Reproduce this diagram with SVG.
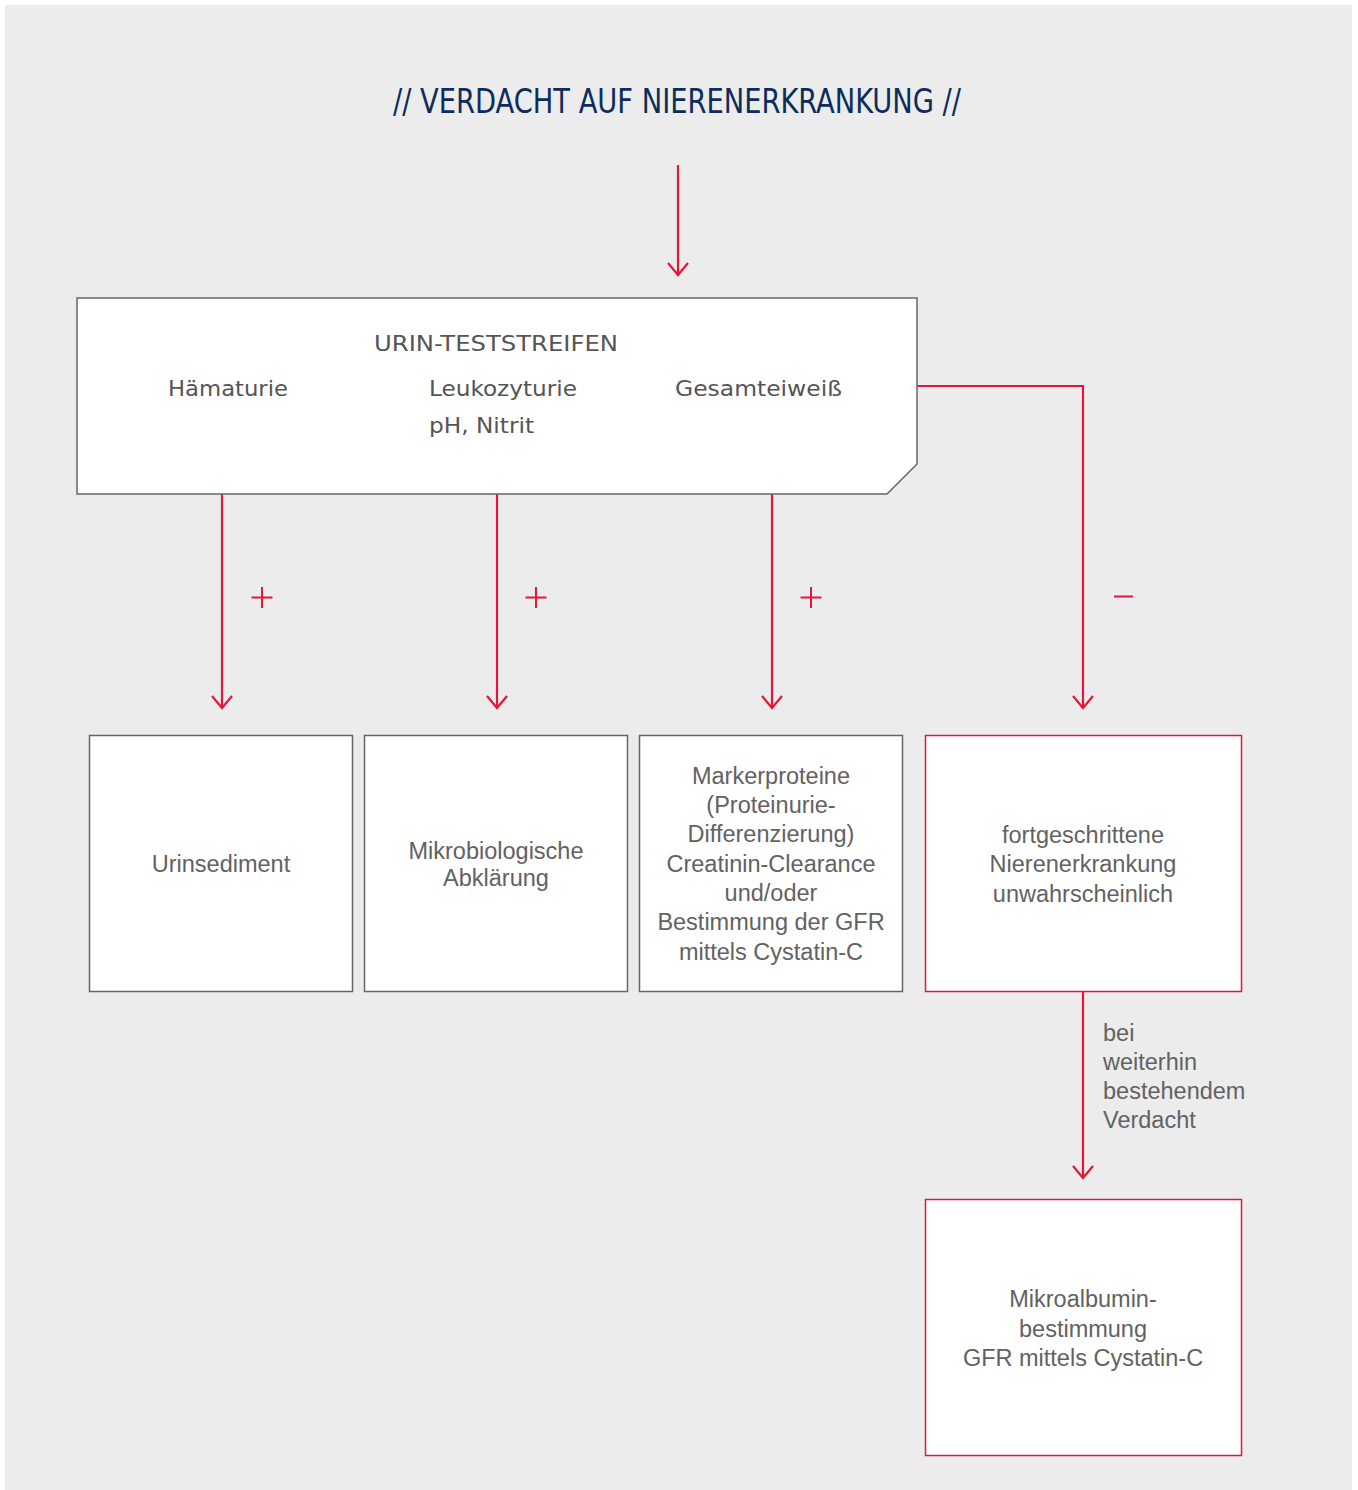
<svg xmlns="http://www.w3.org/2000/svg" width="1358" height="1490" viewBox="0 0 1358 1490">
<defs>
<marker id="ah" viewBox="0 0 16 24" markerWidth="16" markerHeight="24" refX="14" refY="12" orient="auto" markerUnits="userSpaceOnUse">
<path d="M2,2 L14,12 L2,22" fill="none" stroke="#e4163a" stroke-width="2.2"/>
</marker>
<style>
.box{fill:#fff;stroke:#666;stroke-width:1.5}
.rbox{fill:#fff;stroke:#e4163a;stroke-width:1.5}
.t{font-family:"Liberation Sans",Arial,sans-serif;font-size:23.5px;fill:#626262}
.c{font-family:"DejaVu Sans Condensed","Liberation Sans Narrow","Liberation Sans",sans-serif;font-size:22px;fill:#555}
.line{fill:none;stroke:#e4163a;stroke-width:2.2}
</style>
</defs>
<rect x="0" y="0" width="1358" height="1490" fill="#fff"/>
<rect x="5" y="5" width="1347" height="1490" fill="#ececec"/>
<text x="677" y="113" text-anchor="middle" font-family="DejaVu Sans Condensed,Liberation Sans Narrow,sans-serif" font-size="34" fill="#0c2d5c" textLength="568" lengthAdjust="spacingAndGlyphs">// VERDACHT AUF NIERENERKRANKUNG //</text>
<g id="connectors">
<path class="line" d="M678,165 V275" marker-end="url(#ah)"/>
<path class="line" d="M222,494 V708" marker-end="url(#ah)"/>
<path class="line" d="M497,494 V708" marker-end="url(#ah)"/>
<path class="line" d="M772,494 V708" marker-end="url(#ah)"/>
<path class="line" d="M917,386 H1083 V708" marker-end="url(#ah)"/>
<path class="line" d="M1083,992 V1178" marker-end="url(#ah)"/>
<path d="M262,587 V608 M251.5,597.5 H272.5 M536,587 V608 M525.5,597.5 H546.5 M811,587 V608 M800.5,597.5 H821.5 M1114,596.5 H1133" stroke="#e4163a" stroke-width="2" fill="none"/>
<g class="t"><text x="1103" y="1041">bei</text><text x="1103" y="1070">weiterhin</text><text x="1103" y="1099">bestehendem</text><text x="1103" y="1128">Verdacht</text></g>
</g>
<g id="teststreifen">
<path class="box" d="M77,298 H917 V464 L887,494 H77 Z"/>
<text class="c" x="496" y="351" text-anchor="middle" textLength="244" lengthAdjust="spacingAndGlyphs">URIN-TESTSTREIFEN</text>
<text class="c" x="168" y="396" textLength="120" lengthAdjust="spacingAndGlyphs">Hämaturie</text>
<text class="c" x="429" y="396" textLength="148" lengthAdjust="spacingAndGlyphs">Leukozyturie</text>
<text class="c" x="429" y="433" textLength="105" lengthAdjust="spacingAndGlyphs">pH, Nitrit</text>
<text class="c" x="675" y="396" textLength="167" lengthAdjust="spacingAndGlyphs">Gesamteiweiß</text>
</g>
<g id="urinsediment">
<rect class="box" x="89.5" y="735.5" width="263" height="256"/>
<text class="t" x="221" y="872" text-anchor="middle">Urinsediment</text>
</g>
<g id="mikrobiologie">
<rect class="box" x="364.5" y="735.5" width="263" height="256"/>
<text class="t" x="496" y="859" text-anchor="middle">Mikrobiologische</text>
<text class="t" x="496" y="886" text-anchor="middle">Abklärung</text>
</g>
<g id="markerproteine">
<rect class="box" x="639.5" y="735.5" width="263" height="256"/>
<g class="t" text-anchor="middle">
<text x="771" y="784">Markerproteine</text>
<text x="771" y="813">(Proteinurie-</text>
<text x="771" y="842">Differenzierung)</text>
<text x="771" y="872">Creatinin-Clearance</text>
<text x="771" y="901">und/oder</text>
<text x="771" y="930">Bestimmung der GFR</text>
<text x="771" y="960">mittels Cystatin-C</text>
</g>
</g>
<g id="unwahrscheinlich">
<rect class="rbox" x="925.5" y="735.5" width="316" height="256"/>
<g class="t" text-anchor="middle">
<text x="1083" y="843">fortgeschrittene</text>
<text x="1083" y="872">Nierenerkrankung</text>
<text x="1083" y="902">unwahrscheinlich</text>
</g>
</g>
<g id="mikroalbumin">
<rect class="rbox" x="925.5" y="1199.5" width="316" height="256"/>
<g class="t" text-anchor="middle">
<text x="1083" y="1307">Mikroalbumin-</text>
<text x="1083" y="1337">bestimmung</text>
<text x="1083" y="1366">GFR mittels Cystatin-C</text>
</g>
</g>
</svg>
